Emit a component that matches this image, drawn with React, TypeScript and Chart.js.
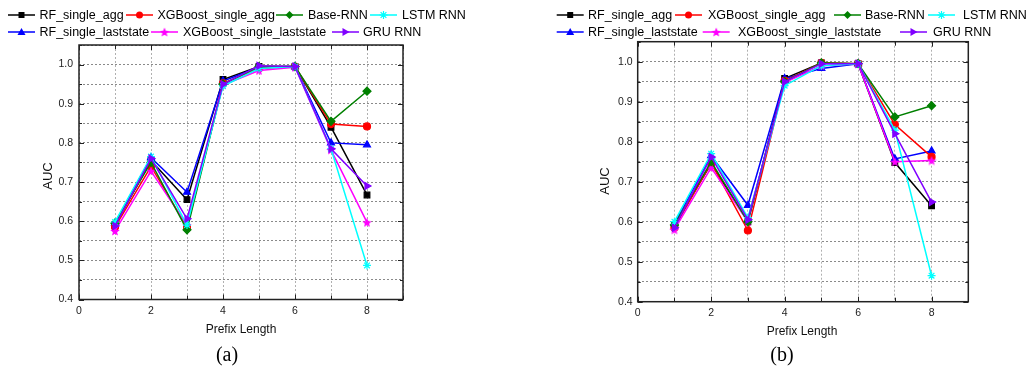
import React, { useEffect, useRef } from 'react';
import { Chart, registerables } from 'chart.js';

Chart.register(...registerables);

// ---------------- data ----------------
const prefixLengths = [1, 2, 3, 4, 5, 6, 7, 8];

const seriesNames = [
  'RF_single_agg',
  'XGBoost_single_agg',
  'Base-RNN',
  'LSTM RNN',
  'RF_single_laststate',
  'XGBoost_single_laststate',
  'GRU RNN',
];
const seriesColors = ['#000000', '#ff0000', '#008000', '#00ffff', '#0000ff', '#ff00ff', '#8000ff'];
const seriesMarkers = ['rect', 'circle', 'rectRot', 'asterisk', 'triangle', 'star5', 'triangleRight'];
// lower = drawn on top
const seriesDrawOrder = [6, 4, 2, 1, 5, 3, 0];

// panel (a)
const aRfAgg = [0.59, 0.755, 0.655, 0.962, 0.995, 0.995, 0.84, 0.667];
const aXgbAgg = [0.585, 0.74, 0.585, 0.952, 0.99, 0.995, 0.848, 0.842];
const aBaseRnn = [0.595, 0.75, 0.578, 0.95, 0.995, 0.995, 0.855, 0.932];
const aLstm = [0.598, 0.765, 0.59, 0.945, 0.99, 0.995, 0.785, 0.487];
const aRfLast = [0.595, 0.762, 0.674, 0.958, 0.993, 0.995, 0.8, 0.795];
const aXgbLast = [0.575, 0.728, 0.59, 0.948, 0.985, 0.993, 0.782, 0.597];
const aGru = [0.588, 0.76, 0.606, 0.95, 0.997, 0.995, 0.785, 0.69];

// panel (b)
const bRfAgg = [0.59, 0.745, 0.6, 0.958, 0.997, 0.995, 0.748, 0.64];
const bXgbAgg = [0.585, 0.747, 0.578, 0.952, 0.997, 0.995, 0.843, 0.762];
const bBaseRnn = [0.592, 0.75, 0.6, 0.95, 0.997, 0.995, 0.862, 0.89];
const bLstm = [0.6, 0.77, 0.61, 0.94, 0.99, 0.995, 0.829, 0.465];
const bRfLast = [0.595, 0.765, 0.641, 0.958, 0.983, 0.995, 0.757, 0.777];
const bXgbLast = [0.58, 0.735, 0.6, 0.948, 0.99, 0.995, 0.75, 0.753];
const bGru = [0.585, 0.762, 0.605, 0.95, 0.995, 0.995, 0.82, 0.649];

const yMin = 0.4;
const yMax = 1.05;
const yStep = 0.05;
const xMin = 0;
const xMax = 9;
const xStep = 1;

const yTitle = 'AUC';
const xTitle = 'Prefix Length';

const FONT = '"Liberation Sans", Arial, sans-serif';

// ---------------- helpers ----------------
function makeStarCanvas(color: string, size: number) {
  const c = document.createElement('canvas');
  c.width = size;
  c.height = size;
  const ctx = c.getContext('2d')!;
  const cx = size / 2;
  const cy = size / 2 + 0.5;
  const ro = size / 2;
  const ri = ro * 0.45;
  ctx.beginPath();
  for (let i = 0; i < 10; i++) {
    const r = i % 2 === 0 ? ro : ri;
    const a = -Math.PI / 2 + (i * Math.PI) / 5;
    const px = cx + r * Math.cos(a);
    const py = cy + r * Math.sin(a);
    if (i === 0) ctx.moveTo(px, py);
    else ctx.lineTo(px, py);
  }
  ctx.closePath();
  ctx.fillStyle = color;
  ctx.fill();
  return c;
}

function drawMarker(ctx: CanvasRenderingContext2D, kind: string, x: number, y: number, color: string, star: HTMLCanvasElement) {
  ctx.save();
  ctx.fillStyle = color;
  ctx.strokeStyle = color;
  ctx.lineWidth = 1.2;
  ctx.beginPath();
  if (kind === 'rect') {
    ctx.fillRect(x - 3, y - 3, 6, 6);
  } else if (kind === 'circle') {
    ctx.arc(x, y, 3.5, 0, Math.PI * 2);
    ctx.fill();
  } else if (kind === 'rectRot') {
    ctx.moveTo(x, y - 4);
    ctx.lineTo(x + 4, y);
    ctx.lineTo(x, y + 4);
    ctx.lineTo(x - 4, y);
    ctx.closePath();
    ctx.fill();
  } else if (kind === 'asterisk') {
    const r = 4;
    ctx.moveTo(x - r, y);
    ctx.lineTo(x + r, y);
    ctx.moveTo(x, y - r);
    ctx.lineTo(x, y + r);
    const d = r * 0.72;
    ctx.moveTo(x - d, y - d);
    ctx.lineTo(x + d, y + d);
    ctx.moveTo(x - d, y + d);
    ctx.lineTo(x + d, y - d);
    ctx.stroke();
  } else if (kind === 'triangle') {
    ctx.moveTo(x, y - 4);
    ctx.lineTo(x + 4, y + 3);
    ctx.lineTo(x - 4, y + 3);
    ctx.closePath();
    ctx.fill();
  } else if (kind === 'triangleRight') {
    ctx.moveTo(x + 4, y);
    ctx.lineTo(x - 3, y - 4);
    ctx.lineTo(x - 3, y + 4);
    ctx.closePath();
    ctx.fill();
  } else if (kind === 'star5') {
    ctx.drawImage(star, x - star.width / 2, y - star.height / 2);
  }
  ctx.restore();
}

type PanelCfg = {
  offsetX: number;
  width: number;
  values: number[][];
  area: { left: number; right: number; top: number; bottom: number };
  yLabelPad: number;
  xLabelPad: number;
  legendLine: number[];
  legendText: number[];
  legendRow: number[];
  yTitlePos: [number, number];
  xTitlePos: [number, number];
  caption: string;
  captionPos: [number, number];
};

const panelA: PanelCfg = {
  offsetX: 0,
  width: 515,
  values: [aRfAgg, aXgbAgg, aBaseRnn, aLstm, aRfLast, aXgbLast, aGru],
  area: { left: 79, right: 403, top: 45, bottom: 299.5 },
  yLabelPad: 6,
  xLabelPad: 5,
  legendLine: [8, 126, 276, 370, 8, 151, 332],
  legendText: [39.5, 157.5, 308, 402, 39.5, 183, 363],
  legendRow: [15, 15, 15, 15, 32, 32, 32],
  yTitlePos: [48, 176],
  xTitlePos: [241, 330],
  caption: '(a)',
  captionPos: [227, 356],
};

const panelB: PanelCfg = {
  offsetX: 515,
  width: 514,
  values: [bRfAgg, bXgbAgg, bBaseRnn, bLstm, bRfLast, bXgbLast, bGru],
  area: { left: 637.7, right: 968.3, top: 41.7, bottom: 301.7 },
  yLabelPad: 5,
  xLabelPad: 5,
  legendLine: [556.7, 675, 834, 928, 556.7, 702.7, 900],
  legendText: [588, 708, 865, 963, 588, 738, 933],
  legendRow: [15, 15, 15, 15, 32, 32, 32],
  yTitlePos: [605, 181],
  xTitlePos: [802, 331.5],
  caption: '(b)',
  captionPos: [782, 356],
};

const HEIGHT = 371;

function Panel({ cfg }: { cfg: PanelCfg }) {
  const ref = useRef<HTMLCanvasElement | null>(null);

  useEffect(() => {
    const canvas = ref.current;
    if (!canvas) return;
    const starImg = makeStarCanvas('#ff00ff', 10);
    const ox = cfg.offsetX;

    const datasets = seriesNames.map((name, i) => {
      const kind = seriesMarkers[i];
      let pointStyle: any = kind;
      let rotation = 0;
      let radius = 4;
      if (kind === 'asterisk') pointStyle = 'star';
      if (kind === 'star5') pointStyle = starImg;
      if (kind === 'triangleRight') {
        pointStyle = 'triangle';
        rotation = 90;
      }
      if (kind === 'circle') radius = 3.5;
      return {
        label: name,
        data: prefixLengths.map((x, j) => ({ x, y: cfg.values[i][j] })),
        borderColor: seriesColors[i],
        backgroundColor: seriesColors[i],
        pointBackgroundColor: seriesColors[i],
        pointBorderColor: seriesColors[i],
        pointBorderWidth: 1.2,
        pointStyle,
        pointRotation: rotation,
        pointRadius: radius,
        borderWidth: 1.5,
        tension: 0,
        order: seriesDrawOrder[i],
      };
    });

    const decor = {
      id: 'decor',
      afterDraw(chart: any) {
        const ctx: CanvasRenderingContext2D = chart.ctx;
        const { left, right, top, bottom } = chart.chartArea;
        const ys = chart.scales.y;
        const xs = chart.scales.x;
        ctx.save();
        // inward ticks
        ctx.strokeStyle = '#222';
        ctx.lineWidth = 1;
        for (let k = 0; k <= Math.round((yMax - yMin) / yStep); k++) {
          const v = yMin + k * yStep;
          const py = Math.round(ys.getPixelForValue(v)) + 0.5;
          const major = Math.round(v * 100) % 10 === 0;
          const len = major ? 5 : 3;
          ctx.beginPath();
          ctx.moveTo(left, py);
          ctx.lineTo(left + len, py);
          ctx.moveTo(right, py);
          ctx.lineTo(right - len, py);
          ctx.stroke();
        }
        for (let v = xMin; v <= xMax; v += xStep) {
          const px = Math.round(xs.getPixelForValue(v)) + 0.5;
          const len = v % 2 === 0 ? 5 : 4;
          ctx.beginPath();
          ctx.moveTo(px, bottom);
          ctx.lineTo(px, bottom - len);
          ctx.moveTo(px, top);
          ctx.lineTo(px, top + len);
          ctx.stroke();
        }
        // frame
        ctx.strokeStyle = '#222';
        ctx.lineWidth = 1.5;
        ctx.strokeRect(left, top, right - left, bottom - top);

        // legend
        ctx.font = `12.5px ${FONT}`;
        ctx.textBaseline = 'middle';
        ctx.textAlign = 'left';
        seriesNames.forEach((name, i) => {
          const lx = cfg.legendLine[i] - ox;
          const ly = cfg.legendRow[i];
          ctx.strokeStyle = seriesColors[i];
          ctx.lineWidth = 1.5;
          ctx.beginPath();
          ctx.moveTo(lx, ly);
          ctx.lineTo(lx + 27, ly);
          ctx.stroke();
          drawMarker(ctx, seriesMarkers[i], lx + 13.5, ly, seriesColors[i], starImg);
          ctx.fillStyle = '#000';
          ctx.fillText(name, cfg.legendText[i] - ox, ly + 0.5);
        });

        // axis titles
        ctx.fillStyle = '#111';
        ctx.font = `13px ${FONT}`;
        ctx.textAlign = 'center';
        ctx.textBaseline = 'middle';
        ctx.save();
        ctx.translate(cfg.yTitlePos[0] - ox, cfg.yTitlePos[1]);
        ctx.rotate(-Math.PI / 2);
        ctx.fillText(yTitle, 0, 0);
        ctx.restore();
        ctx.font = `12px ${FONT}`;
        ctx.fillText(xTitle, cfg.xTitlePos[0] - ox, cfg.xTitlePos[1]);

        // caption
        ctx.fillStyle = '#000';
        ctx.font = `20px "Liberation Serif", "Times New Roman", serif`;
        ctx.fillText(cfg.caption, cfg.captionPos[0] - ox, cfg.captionPos[1]);
        ctx.restore();
      },
    };

    const a = cfg.area;
    const chart = new Chart(canvas, {
      type: 'line',
      data: { datasets: datasets as any },
      options: {
        animation: false,
        responsive: false,
        maintainAspectRatio: false,
        layout: {
          padding: {
            left: 0,
            right: cfg.offsetX + cfg.width - a.right,
            top: a.top,
            bottom: HEIGHT - a.bottom - 20,
          },
        },
        plugins: {
          legend: { display: false },
          tooltip: { enabled: false },
          title: { display: false },
        },
        scales: {
          x: {
            type: 'linear',
            min: xMin,
            max: xMax,
            afterFit: (s: any) => {
              s.height = 20;
            },
            ticks: {
              stepSize: xStep,
              autoSkip: false,
              maxRotation: 0,
              padding: cfg.xLabelPad,
              color: '#222',
              font: { family: FONT, size: 10.5 },
              callback: (v: any) => (Number(v) % 2 === 0 ? String(v) : ''),
            },
            grid: {
              color: '#b0b0b0',
              lineWidth: 1,
              drawTicks: false,
            },
            border: { display: false, dash: [2, 2] },
          },
          y: {
            type: 'linear',
            min: yMin,
            max: yMax,
            afterFit: (s: any) => {
              s.width = a.left - cfg.offsetX;
            },
            ticks: {
              stepSize: yStep,
              autoSkip: false,
              padding: cfg.yLabelPad,
              color: '#222',
              font: { family: FONT, size: 10.5 },
              callback: (v: any) => {
                const r = Math.round(Number(v) * 100);
                return r % 10 === 0 ? (r / 100).toFixed(1) : '';
              },
            },
            grid: {
              color: '#8a8a8a',
              lineWidth: 1,
              drawTicks: false,
            },
            border: { display: false, dash: [2, 2] },
          },
        },
      },
      plugins: [decor],
    });

    return () => {
      chart.destroy();
    };
  }, [cfg]);

  return (
    <canvas
      ref={ref}
      width={cfg.width}
      height={HEIGHT}
      style={{ position: 'absolute', left: cfg.offsetX, top: 0, width: cfg.width, height: HEIGHT }}
    />
  );
}

export default function App() {
  return (
    <div style={{ position: 'absolute', left: 0, top: 0, width: 1029, height: HEIGHT, background: '#fff', overflow: 'hidden' }}>
      <Panel cfg={panelA} />
      <Panel cfg={panelB} />
    </div>
  );
}
